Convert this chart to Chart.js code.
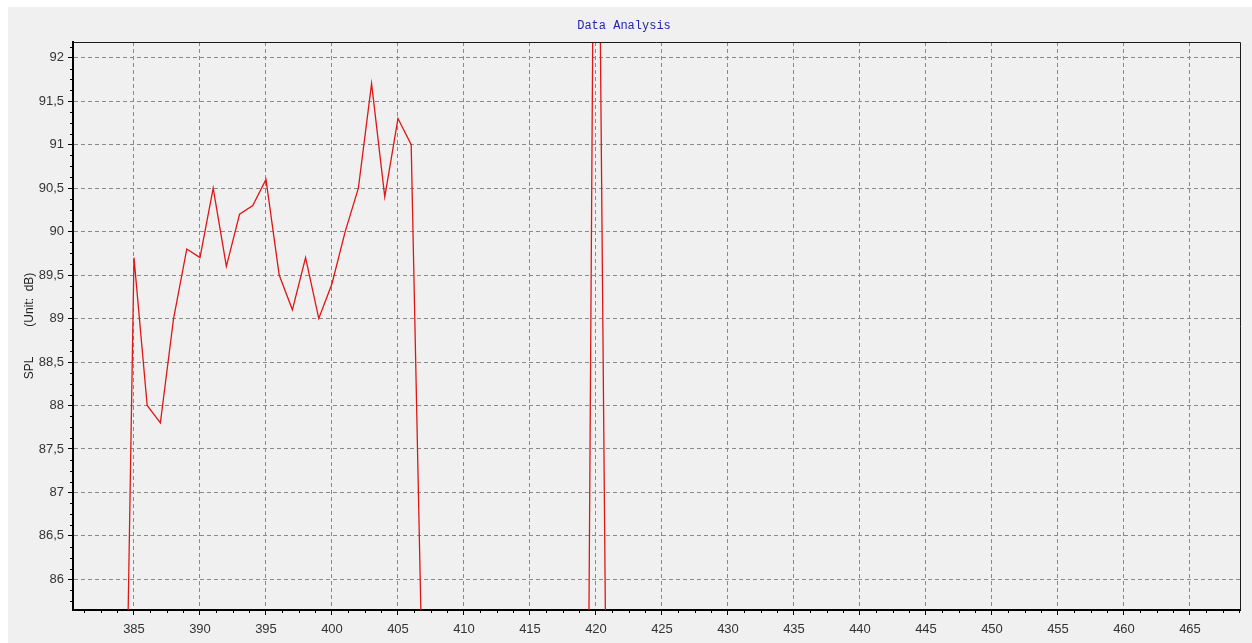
<!DOCTYPE html>
<html>
<head>
<meta charset="utf-8">
<script src="https://cdn.jsdelivr.net/npm/chart.js@4/dist/chart.umd.min.js"></script>
<style>
  html, body { margin: 0; padding: 0; background: #ffffff; width: 1252px; height: 643px; overflow: hidden; }
  #panel { position: absolute; left: 8px; top: 7px; width: 1244px; height: 636px; background: #f0f0f0; }
  #c { display: block; }
</style>
</head>
<body>
<div id="panel"><canvas id="c" width="1244" height="636"></canvas></div>
<script>
// ---- data ----
const frequencies = [384, 385, 386, 387, 388, 389, 390, 391, 392, 393, 394, 395, 396, 397, 398, 399, 400,
                     401, 402, 403, 404, 405, 406, 407, 408, 409, 410, 411, 412, 413, 414, 415, 416, 417, 418,
                     419, 420, 421];
const splValues = [80.5, 89.7, 88.0, 87.8, 89.0, 89.8, 89.7, 90.5, 89.6, 90.2, 90.3, 90.6, 89.5, 89.1, 89.7, 89.0, 89.4,
                   90.0, 90.5, 91.7, 90.4, 91.3, 91.0, 83.7, null, null, null, null, null, null, null, null, null, null, null,
                   74.7, 98.0, 80.6];
const xTickValues = [385, 390, 395, 400, 405, 410, 415, 420, 425, 430, 435, 440, 445, 450, 455, 460, 465];
const yTickValues = [86, 86.5, 87, 87.5, 88, 88.5, 89, 89.5, 90, 90.5, 91, 91.5, 92];
const xRange = [380.38, 468.79];
const yRange = [85.648, 92.18];
const chartTitle = 'Data Analysis';
const yAxisTitle = 'SPL         (Unit:  dB)';

const points = frequencies.map((f, i) => ({ x: f, y: splValues[i] }));
const fmt = v => String(v).replace('.', ',');

const minorTicks = {
  id: 'minorTicks',
  afterDraw(chart) {
    const { ctx, chartArea: a, scales: { x, y } } = chart;
    ctx.save();
    ctx.strokeStyle = '#000';
    ctx.lineWidth = 1;
    ctx.beginPath();
    for (let k = -4; k <= 70; k++) {
      if (k % 4 === 0) continue;
      const v = 385 + k * 1.25;
      if (v < xRange[0] || v > xRange[1]) continue;
      const px = Math.round(x.getPixelForValue(v)) + 0.5;
      ctx.moveTo(px, a.bottom);
      ctx.lineTo(px, a.bottom + 3);
    }
    for (let k = -4; k <= 52; k++) {
      if (k % 4 === 0) continue;
      const v = 86 + k * 0.125;
      if (v < yRange[0] || v > yRange[1]) continue;
      const py = Math.round(y.getPixelForValue(v)) + 0.5;
      ctx.moveTo(a.left - 3, py);
      ctx.lineTo(a.left, py);
    }
    ctx.stroke();
    // thin frame on top and right
    ctx.beginPath();
    ctx.strokeStyle = '#1a1a1a';
    ctx.moveTo(a.left, Math.round(a.top) + 0.5);
    ctx.lineTo(Math.round(a.right) + 0.5, Math.round(a.top) + 0.5);
    ctx.lineTo(Math.round(a.right) + 0.5, a.bottom);
    ctx.stroke();
    ctx.restore();
  }
};

new Chart(document.getElementById('c'), {
  type: 'line',
  data: {
    datasets: [{
      data: points,
      borderColor: '#e01515',
      borderWidth: 1.3,
      pointRadius: 0,
      tension: 0,
      spanGaps: false,
      fill: false
    }]
  },
  options: {
    responsive: false,
    animation: false,
    devicePixelRatio: 1,
    layout: { padding: { left: 0, right: 12, top: 0, bottom: 0 } },
    plugins: {
      legend: { display: false },
      tooltip: { enabled: false },
      title: {
        display: true,
        text: chartTitle,
        color: '#2424b0',
        font: { family: 'Liberation Mono', size: 12, weight: 'normal' },
        padding: { top: 12, bottom: 8.6 }
      }
    },
    scales: {
      x: {
        type: 'linear',
        min: xRange[0],
        max: xRange[1],
        afterBuildTicks: s => { s.ticks = xTickValues.map(v => ({ value: v })); },
        afterFit: s => { s.height = 33; },
        ticks: {
          callback: v => String(v),
          color: '#333333',
          font: { family: 'Liberation Sans', size: 13 },
          padding: 7,
          maxRotation: 0,
          autoSkip: false
        },
        grid: {
          color: '#8a8a8a',
          lineWidth: 1,
          tickLength: 5,
          tickColor: '#000',
          tickWidth: 1
        },
        border: { display: true, color: '#000', width: 2, dash: [4, 3] }
      },
      y: {
        type: 'linear',
        min: yRange[0],
        max: yRange[1],
        afterBuildTicks: s => { s.ticks = yTickValues.map(v => ({ value: v })); },
        afterFit: s => { s.width = 65; },
        ticks: {
          callback: v => fmt(v),
          color: '#333333',
          font: { family: 'Liberation Sans', size: 13 },
          padding: 4,
          autoSkip: false
        },
        grid: {
          color: '#8a8a8a',
          lineWidth: 1,
          tickLength: 5,
          tickColor: '#000',
          tickWidth: 1
        },
        border: { display: true, color: '#000', width: 2, dash: [4, 3] },
        title: {
          display: true,
          text: yAxisTitle,
          color: '#222222',
          font: { family: 'Liberation Sans', size: 12 },
          padding: { top: 14, bottom: 0 }
        }
      }
    }
  },
  plugins: [minorTicks]
});
</script>
</body>
</html>
